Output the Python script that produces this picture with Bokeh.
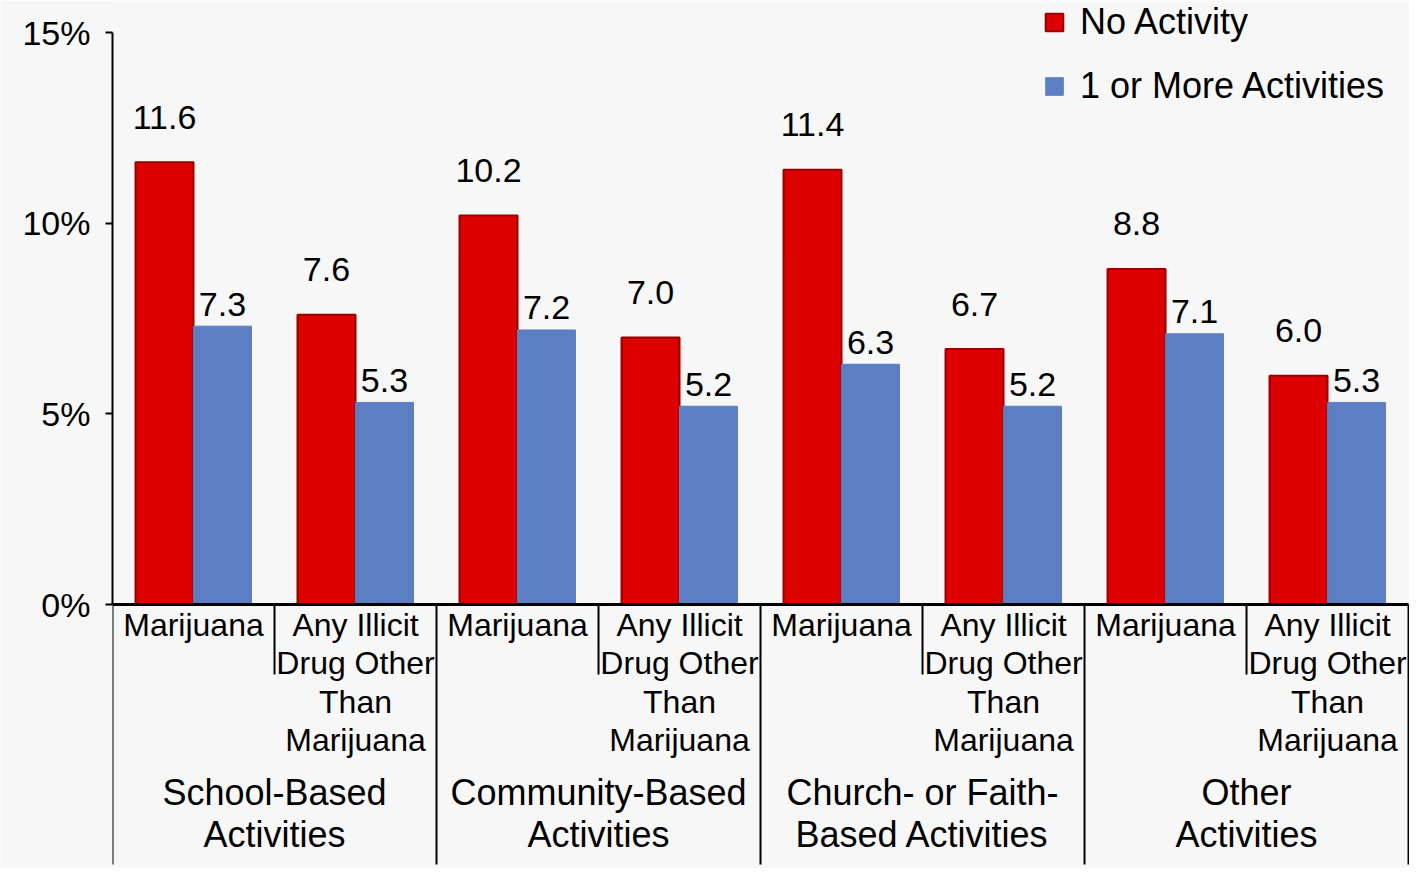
from bokeh.plotting import figure
from bokeh.models import Range1d, FixedTicker, Legend, LegendItem, ColumnDataSource
from bokeh.embed import file_html
from bokeh.resources import INLINE
from bokeh.core.properties import value

# ---- data ----
groups = ["School-Based\nActivities", "Community-Based\nActivities",
          "Church- or Faith-\nBased Activities", "Other\nActivities"]
substances = ["Marijuana", "Any Illicit\nDrug Other\nThan\nMarijuana"]
no_activity = [11.6, 7.6, 10.2, 7.0, 11.4, 6.7, 8.8, 6.0]
one_or_more = [7.3, 5.3, 7.2, 5.2, 6.3, 5.2, 7.1, 5.3]
series_names = ["No Activity", "1 or More Activities"]
y_ticks = [0, 5, 10, 15]
y_tick_labels = ["0%", "5%", "10%", "15%"]

# ---- styles ----
FONT = value("Liberation Sans")
RED = "#dd0000"
RED_EDGE = "#990000"
BLUE = "#5b7fc2"
BG = "#f7f7f7"
PX_PER_UNIT_Y = 38.13

n_cells = len(groups) * len(substances)
cell_centers = [i + 0.5 for i in range(n_cells)]
bar_w = 0.358
red_x = [c - bar_w / 2 for c in cell_centers]
blue_x = [c + bar_w / 2 for c in cell_centers]

p = figure(width=1409, height=868,
           x_range=Range1d(0, 8.006),
           y_range=Range1d(-264 / PX_PER_UNIT_Y, 602 / PX_PER_UNIT_Y),
           x_axis_location=None,
           toolbar_location=None, output_backend="svg",
           min_border_left=112, min_border_right=0,
           min_border_top=2, min_border_bottom=0)
p.background_fill_color = BG
p.border_fill_color = BG
p.outline_line_color = None
p.grid.visible = False

# y axis
ax = p.yaxis[0]
ax.ticker = FixedTicker(ticks=y_ticks)
ax.major_label_overrides = {t: l for t, l in zip(y_ticks, y_tick_labels)}
ax.bounds = (y_ticks[0], y_ticks[-1])
ax.axis_line_width = 2
ax.axis_line_color = "black"
ax.major_tick_line_width = 2
ax.major_tick_line_color = "black"
ax.major_tick_out = 7
ax.major_tick_in = 0
ax.minor_tick_out = 0
ax.minor_tick_in = 0
ax.major_label_text_font = "Liberation Sans"
ax.major_label_text_font_size = "34px"
ax.major_label_text_color = "black"
ax.major_label_standoff = 15

# bars
src_red = ColumnDataSource(dict(x=red_x, top=no_activity, lab=[f"{v:.1f}" for v in no_activity]))
src_blue = ColumnDataSource(dict(x=blue_x, top=one_or_more, lab=[f"{v:.1f}" for v in one_or_more]))
r_red = p.vbar(x="x", top="top", bottom=0, width=bar_w, source=src_red,
               fill_color=RED, line_color=RED_EDGE, line_width=2)
r_blue = p.vbar(x="x", top="top", bottom=0, width=bar_w, source=src_blue,
                fill_color=BLUE, line_color=BLUE, line_width=1)

# value labels
p.text(x="x", y="top", text="lab", source=src_red, y_offset=-45,
       text_align="center", text_baseline="middle",
       text_font=FONT, text_font_size="34px", text_color="black")
p.text(x="x", y="top", text="lab", source=src_blue, y_offset=-22,
       text_align="center", text_baseline="middle",
       text_font=FONT, text_font_size="34px", text_color="black")

# category axis lines
p.segment(x0=[0], y0=[0], x1=[n_cells], y1=[0], line_color="black", line_width=3)
short_x = [i for i in range(1, n_cells, 2)]
long_x = [i for i in range(0, n_cells + 1, 2)]
p.segment(x0=short_x, y0=[0] * len(short_x), x1=short_x,
          y1=[-70 / PX_PER_UNIT_Y] * len(short_x), line_color="black", line_width=2)
p.segment(x0=long_x, y0=[0] * len(long_x), x1=long_x,
          y1=[-260 / PX_PER_UNIT_Y] * len(long_x), line_color="black", line_width=2)

# sub category labels
sub_text = [substances[i % 2] for i in range(n_cells)]
p.text(x=cell_centers, y=[0] * n_cells, text=sub_text, y_offset=2,
       text_align="center", text_baseline="top", text_line_height=1.07,
       text_font=FONT, text_font_size="32px", text_color="black")

# group labels
group_x = [2 * g + 1 for g in range(len(groups))]
p.text(x=group_x, y=[0] * len(groups), text=groups, y_offset=167,
       text_align="center", text_baseline="top", text_line_height=1.045,
       text_font=FONT, text_font_size="36px", text_color="black")

legend = Legend(items=[LegendItem(label=series_names[0], renderers=[r_red]),
                       LegendItem(label=series_names[1], renderers=[r_blue])],
                location=(931, 761), orientation="vertical",
                padding=0, margin=0, spacing=22,
                glyph_width=22, glyph_height=22, label_standoff=15,
                label_text_font="Liberation Sans", label_text_font_size="36px",
                label_text_color="black",
                border_line_color=None, background_fill_alpha=0)
p.add_layout(legend)

open("out.html", "w").write(file_html(p, INLINE))
